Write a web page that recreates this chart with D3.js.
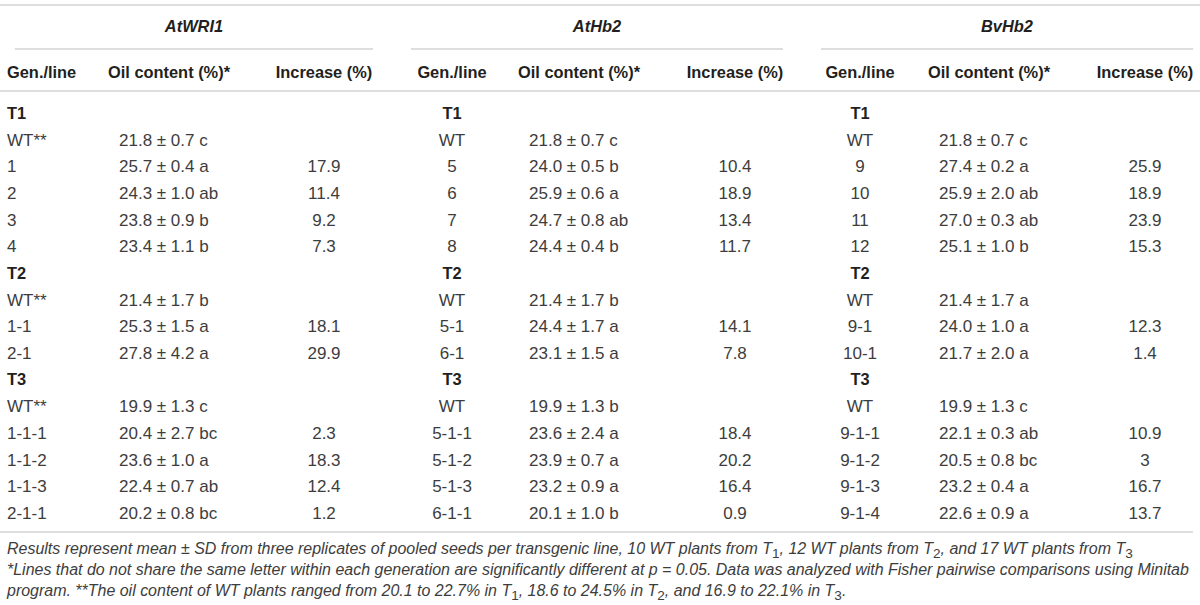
<!DOCTYPE html>
<html>
<head>
<meta charset="utf-8">
<script src="https://cdn.jsdelivr.net/npm/d3@7"></script>
<style>
  html, body { margin: 0; padding: 0; background: #fff; }
  svg { display: block; font-family: "Liberation Sans", Arial, sans-serif; }
</style>
</head>
<body>
<div id="chart"></div>
<script>
  'use strict';

  // table content
  var groups = ['AtWRI1', 'AtHb2', 'BvHb2'];
  var columnHeaders = ['Gen./line', 'Oil content (%)*', 'Increase (%)'];
  var generations = ['T1', 'T2', 'T3'];

  var atwri1Lines = [['WT**', '1', '2', '3', '4'], ['WT**', '1-1', '2-1'], ['WT**', '1-1-1', '1-1-2', '1-1-3', '2-1-1']];
  var atwri1Mean = [[21.8, 25.7, 24.3, 23.8, 23.4], [21.4, 25.3, 27.8], [19.9, 20.4, 23.6, 22.4, 20.2]];
  var atwri1Sd = [[0.7, 0.4, 1.0, 0.9, 1.1], [1.7, 1.5, 4.2], [1.3, 2.7, 1.0, 0.7, 0.8]];
  var atwri1Letter = [['c', 'a', 'ab', 'b', 'b'], ['b', 'a', 'a'], ['c', 'bc', 'a', 'ab', 'bc']];
  var atwri1Increase = [[null, 17.9, 11.4, 9.2, 7.3], [null, 18.1, 29.9], [null, 2.3, 18.3, 12.4, 1.2]];

  var athb2Lines = [['WT', '5', '6', '7', '8'], ['WT', '5-1', '6-1'], ['WT', '5-1-1', '5-1-2', '5-1-3', '6-1-1']];
  var athb2Mean = [[21.8, 24.0, 25.9, 24.7, 24.4], [21.4, 24.4, 23.1], [19.9, 23.6, 23.9, 23.2, 20.1]];
  var athb2Sd = [[0.7, 0.5, 0.6, 0.8, 0.4], [1.7, 1.7, 1.5], [1.3, 2.4, 0.7, 0.9, 1.0]];
  var athb2Letter = [['c', 'b', 'a', 'ab', 'b'], ['b', 'a', 'a'], ['b', 'a', 'a', 'a', 'b']];
  var athb2Increase = [[null, 10.4, 18.9, 13.4, 11.7], [null, 14.1, 7.8], [null, 18.4, 20.2, 16.4, 0.9]];

  var bvhb2Lines = [['WT', '9', '10', '11', '12'], ['WT', '9-1', '10-1'], ['WT', '9-1-1', '9-1-2', '9-1-3', '9-1-4']];
  var bvhb2Mean = [[21.8, 27.4, 25.9, 27.0, 25.1], [21.4, 24.0, 21.7], [19.9, 22.1, 20.5, 23.2, 22.6]];
  var bvhb2Sd = [[0.7, 0.2, 2.0, 0.3, 1.0], [1.7, 1.0, 2.0], [1.3, 0.3, 0.8, 0.4, 0.9]];
  var bvhb2Letter = [['c', 'a', 'ab', 'ab', 'b'], ['a', 'a', 'a'], ['c', 'ab', 'bc', 'a', 'a']];
  var bvhb2Increase = [[null, 25.9, 18.9, 23.9, 15.3], [null, 12.3, 1.4], [null, 10.9, 3, 16.7, 13.7]];

  // footnote parts: [text, isSubscript]
  var footnotes = [
    [['Results represent mean \u00b1 SD from three replicates of pooled seeds per transgenic line, 10 WT plants from T', 0], ['1', 1],
     [', 12 WT plants from T', 0], ['2', 1], [', and 17 WT plants from T', 0], ['3', 1]],
    [['*Lines that do not share the same letter within each generation are significantly different at p = 0.05. Data was analyzed with Fisher pairwise comparisons using Minitab', 0]],
    [['program. **The oil content of WT plants ranged from 20.1 to 22.7% in T', 0], ['1', 1], [', 18.6 to 24.5% in T', 0], ['2', 1],
     [', and 16.9 to 22.1% in T', 0], ['3', 1], ['.', 0]]
  ];

  var W = 1200, H = 605;
  var lineColor = '#d3d3d3', headColor = '#231f20', textColor = '#3d3d3d';
  var headSize = 16.4, cellSize = 17;

  // column layout per group
  var layout = [
    { lineFrom: 15, lineTo: 373, genX: 7, genAnchor: 'start', oilHeadX: 108, oilX: 119, incX: 324 },
    { lineFrom: 411, lineTo: 783, genX: 452, genAnchor: 'middle', oilHeadX: 518, oilX: 529, incX: 735 },
    { lineFrom: 821, lineTo: 1193, genX: 860, genAnchor: 'middle', oilHeadX: 928, oilX: 939, incX: 1145 }
  ];

  var tableData = [
    { lines: atwri1Lines, mean: atwri1Mean, sd: atwri1Sd, letter: atwri1Letter, inc: atwri1Increase },
    { lines: athb2Lines, mean: athb2Mean, sd: athb2Sd, letter: athb2Letter, inc: athb2Increase },
    { lines: bvhb2Lines, mean: bvhb2Mean, sd: bvhb2Sd, letter: bvhb2Letter, inc: bvhb2Increase }
  ];

  // flatten into rows: generation header row, then one row per line
  function buildRows(d) {
    var rows = [];
    generations.forEach(function (gen, gi) {
      rows.push({ type: 'gen', label: gen });
      d.lines[gi].forEach(function (ln, li) {
        rows.push({
          type: 'line',
          label: ln,
          oil: d.mean[gi][li].toFixed(1) + ' \u00b1 ' + d.sd[gi][li].toFixed(1) + ' ' + d.letter[gi][li],
          inc: d.inc[gi][li] === null ? '' : String(d.inc[gi][li])
        });
      });
    });
    return rows;
  }

  var svg = d3.select('#chart').append('svg').attr('width', W).attr('height', H);

  var rowCount = buildRows(tableData[0]).length;
  var y = d3.scaleLinear().domain([0, rowCount - 1]).range([113, 513]);

  // horizontal rules
  var rules = [
    { x1: 0, x2: 1200, y: 5 },
    { x1: 0, x2: 1200, y: 91 },
    { x1: 0, x2: 1193, y: 532 }
  ];
  svg.selectAll('line.rule').data(rules).enter().append('line')
    .attr('class', 'rule')
    .attr('x1', function (d) { return d.x1; })
    .attr('x2', function (d) { return d.x2; })
    .attr('y1', function (d) { return d.y; })
    .attr('y2', function (d) { return d.y; })
    .attr('stroke', lineColor)
    .attr('stroke-width', 1.6);

  groups.forEach(function (name, i) {
    var lay = layout[i];
    var g = svg.append('g').attr('class', 'group-' + i);

    g.append('text')
      .attr('x', (lay.lineFrom + lay.lineTo) / 2)
      .attr('y', 26)
      .attr('dy', '0.35em')
      .attr('text-anchor', 'middle')
      .attr('font-size', headSize)
      .attr('font-weight', 'bold')
      .attr('font-style', 'italic')
      .attr('fill', headColor)
      .text(name);

    g.append('line')
      .attr('x1', lay.lineFrom).attr('x2', lay.lineTo)
      .attr('y1', 49).attr('y2', 49)
      .attr('stroke', lineColor)
      .attr('stroke-width', 1.6);

    var heads = [
      { text: columnHeaders[0], x: lay.genX, anchor: lay.genAnchor },
      { text: columnHeaders[1], x: lay.oilHeadX, anchor: 'start' },
      { text: columnHeaders[2], x: lay.incX, anchor: 'middle' }
    ];
    g.selectAll('text.colhead').data(heads).enter().append('text')
      .attr('class', 'colhead')
      .attr('x', function (d) { return d.x; })
      .attr('y', 72)
      .attr('dy', '0.35em')
      .attr('text-anchor', function (d) { return d.anchor; })
      .attr('font-size', headSize)
      .attr('font-weight', 'bold')
      .attr('fill', headColor)
      .text(function (d) { return d.text; });

    var rows = buildRows(tableData[i]);
    var row = g.selectAll('g.row').data(rows).enter().append('g')
      .attr('class', 'row')
      .attr('transform', function (d, k) { return 'translate(0,' + y(k) + ')'; });

    row.append('text')
      .attr('x', lay.genX)
      .attr('dy', '0.35em')
      .attr('text-anchor', lay.genAnchor)
      .attr('font-size', function (d) { return d.type === 'gen' ? headSize : cellSize; })
      .attr('font-weight', function (d) { return d.type === 'gen' ? 'bold' : 'normal'; })
      .attr('fill', function (d) { return d.type === 'gen' ? headColor : textColor; })
      .text(function (d) { return d.label; });

    var lineRows = row.filter(function (d) { return d.type === 'line'; });
    lineRows.append('text')
      .attr('x', lay.oilX)
      .attr('dy', '0.35em')
      .attr('font-size', cellSize)
      .attr('fill', textColor)
      .text(function (d) { return d.oil; });
    lineRows.append('text')
      .attr('x', lay.incX)
      .attr('dy', '0.35em')
      .attr('text-anchor', 'middle')
      .attr('font-size', cellSize)
      .attr('fill', textColor)
      .text(function (d) { return d.inc; });
  });

  // footnotes
  var noteSize = 15;
  var notes = svg.selectAll('text.note').data(footnotes).enter().append('text')
    .attr('class', 'note')
    .attr('x', 7)
    .attr('y', function (d, i) { return 554 + i * 21; })
    .attr('font-size', noteSize)
    .attr('font-style', 'italic')
    .attr('fill', textColor);

  notes.each(function (parts) {
    var t = d3.select(this);
    parts.forEach(function (p, k) {
      var span = t.append('tspan').text(p[0]);
      if (p[1]) {
        span.attr('dy', 4).attr('font-style', 'normal').attr('class', 'sub');
      } else if (k > 0 && parts[k - 1][1]) {
        span.attr('dy', -4);
      }
    });
  });

  // fit the longest note to its width in the reference
  var widest = notes.filter(function (d, i) { return i === 1; }).node().getComputedTextLength();
  var fitted = noteSize * 1183 / widest;
  notes.attr('font-size', fitted);
  notes.selectAll('tspan.sub').attr('font-size', fitted * 0.85);
</script>
</body>
</html>
